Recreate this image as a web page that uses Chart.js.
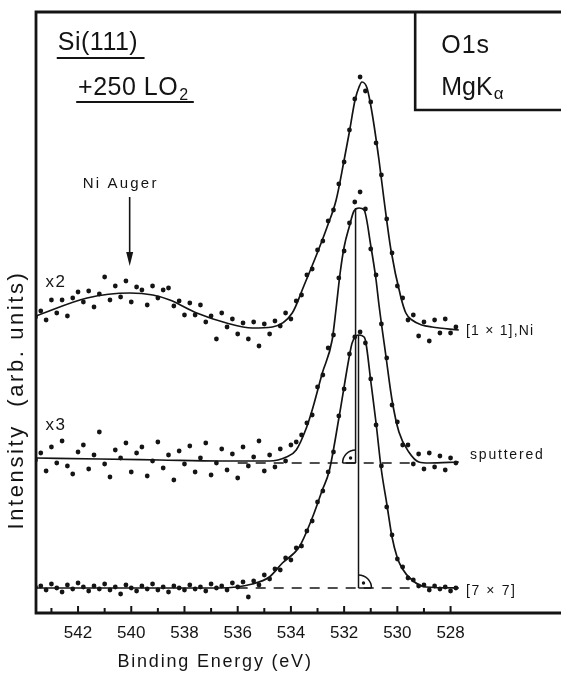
<!DOCTYPE html>
<html>
<head>
<meta charset="utf-8">
<title>O1s XPS spectra</title>
<script src="https://cdn.jsdelivr.net/npm/chart.js@4.4.1/dist/chart.umd.min.js"></script>
<style>
html,body{margin:0;padding:0;background:#fff;overflow:hidden}
canvas{display:block}
</style>
</head>
<body>
<canvas id="chart" width="561" height="677"></canvas>
<script>
// ---------- data (binding energy in eV, intensity in arbitrary units) ----------
const energies = [543.6,543.4,543.2,543.0,542.8,542.6,542.4,542.2,542.0,541.8,
  541.6,541.4,541.2,541.0,540.8,540.6,540.4,540.2,540.0,539.8,
  539.6,539.4,539.2,539.0,538.8,538.6,538.4,538.2,538.0,537.8,
  537.6,537.4,537.2,537.0,536.8,536.6,536.4,536.2,536.0,535.8,
  535.6,535.4,535.2,535.0,534.8,534.6,534.4,534.2,534.0,533.8,
  533.6,533.4,533.2,533.0,532.8,532.6,532.4,532.2,532.0,531.8,
  531.6,531.4,531.2,531.0,530.8,530.6,530.4,530.2,530.0,529.8,
  529.6,529.4,529.2,529.0,528.8,528.6,528.4,528.2,528.0,527.8];

// [1x1],Ni  (x2 scaled region on the left)
const niDots = [296,302,293,313,300,313,297,315,321,311,
  322,306,319,336,313,327,316,332,311,326,
  323,308,327,315,323,325,307,312,298,310,
  298,308,291,297,274,300,286,294,279,290,
  274,291,267,289,279,292,287,300,294,312,
  318,338,344,363,372,392,403,429,451,483,
  514,536,522,511,470,438,394,360,327,315,
  293,298,277,291,272,293,280,294,280,286];
const niFitE = [543.58,541.66,540.05,539.19,538.55,537.54,536.42,535.45,534.70,533.95,533.50,533.01,532.64,532.30,532.00,531.81,531.59,531.44,531.33,531.14,530.95,530.69,530.50,530.24,529.87,529.68,529.45,529.08,528.70,527.69];
const niFitY = [297,315,320,318,313,300,290,285,286,300,328,360,386,413,453,480,513,526,531,525,500,453,413,363,316,300,293,288,286,283];

// sputtered (x3 scaled region on the left)
const sputDots = [153,160,142,166,150,172,147,139,161,168,
  144,158,181,149,136,163,155,170,141,160,
  166,137,152,171,145,158,133,162,149,167,
  141,155,170,138,150,164,143,159,135,166,
  147,156,172,142,158,146,164,152,168,171,
  178,190,198,226,238,265,278,335,362,390,
  411,421,404,364,338,289,255,208,191,168,
  168,149,159,144,160,146,157,143,155,150];
const sputFitE = [543.58,541.18,538.93,536.68,534.81,534.17,533.80,533.42,533.20,532.82,532.45,532.30,532.15,532.00,531.81,531.63,531.44,531.25,530.99,530.80,530.69,530.43,530.20,529.94,529.57,529.19,528.82,527.69];
const sputFitY = [155,154,153,152,152,156,163,185,203,240,273,305,340,366,386,402,405,403,366,333,308,257,213,181,161,151,150,151];

// [7x7]
const s7Dots = [26,27,23,29,25,21,28,24,30,26,
  22,27,24,29,23,26,19,28,25,22,
  27,24,29,23,26,21,27,25,23,28,
  24,26,22,29,25,27,23,30,26,31,
  16,32,28,38,34,44,43,55,53,65,
  67,82,92,111,122,141,161,197,224,259,
  276,281,270,234,188,147,106,78,54,46,
  35,33,27,28,23,27,24,26,22,25];
const s7FitE = [543.58,536.68,535.45,534.81,534.32,533.69,533.20,532.82,532.56,532.19,531.81,531.70,531.46,531.25,531.18,530.99,530.80,530.61,530.39,530.20,530.01,529.83,529.45,528.93,527.69];
const s7FitY = [25,25,29,36,50,66,95,123,142,196,256,270,278,276,270,230,190,145,108,76,56,45,33,26,25];

// peak markers: [energy, peak top, baseline]
const sputPeak = [531.57, 405, 150];
const s7Peak   = [531.46, 278, 25];
const baselineRange = [536.0, 529.3];   // extent of the dashed background lines (eV)

// axis ticks
const tickValues = [542,540,538,536,534,532,530,528];
const tickLabels = ['542','540','538','536','534','532','530','528'];
const minorTickValues = [543,541,539,537,535,533,531,529];

// ---------- drawing ----------
const INK = '#141414';
const FAM = '"Liberation Sans", Arial, sans-serif';
const pts = (xs, ys) => xs.map((x, i) => ({x, y: ys[i]}));

function dots(d) {
  return {data: pts(energies, d), showLine: false, pointRadius: 2.4, pointBorderWidth: 0,
          pointBackgroundColor: INK, pointHoverRadius: 0};
}
function fit(e, v) {
  return {data: pts(e, v), showLine: true, borderColor: INK, borderWidth: 1.7,
          pointRadius: 0, cubicInterpolationMode: 'monotone'};
}
function seg(a, b, dash) {
  return {data: [a, b], showLine: true, borderColor: INK, borderWidth: 1.5,
          borderDash: dash || [], pointRadius: 0};
}

const decor = {
  id: 'decor',
  afterDraw(chart) {
    const {ctx, chartArea: a, scales: {x, y}} = chart;
    const X = v => x.getPixelForValue(v), Y = v => y.getPixelForValue(v);
    ctx.save();
    ctx.strokeStyle = INK; ctx.fillStyle = INK;

    // frame
    ctx.lineWidth = 2.8;
    ctx.beginPath();
    ctx.moveTo(a.right + 3, a.top); ctx.lineTo(a.left, a.top);
    ctx.lineTo(a.left, a.bottom); ctx.lineTo(a.right + 3, a.bottom);
    ctx.stroke();

    // inset box (O1s / MgKa)
    ctx.lineWidth = 2.6;
    ctx.beginPath();
    ctx.moveTo(X(529.33), a.top); ctx.lineTo(X(529.33), Y(503)); ctx.lineTo(a.right + 3, Y(503));
    ctx.stroke();

    // inward ticks
    ctx.lineWidth = 2;
    tickValues.forEach(v => { ctx.beginPath(); ctx.moveTo(X(v), a.bottom); ctx.lineTo(X(v), a.bottom - 7); ctx.stroke(); });
    minorTickValues.forEach(v => { ctx.beginPath(); ctx.moveTo(X(v), a.bottom); ctx.lineTo(X(v), a.bottom - 5); ctx.stroke(); });

    // right-angle markers
    function rightAngle(e, v, side) {
      const cx = X(e), cy = Y(v), r = 13;
      ctx.lineWidth = 1.5;
      ctx.beginPath();
      if (side < 0) ctx.arc(cx, cy, r, Math.PI, 1.5 * Math.PI);
      else ctx.arc(cx, cy, r, 1.5 * Math.PI, 2 * Math.PI);
      ctx.stroke();
      ctx.beginPath(); ctx.moveTo(cx + side * r, cy); ctx.lineTo(cx, cy); ctx.stroke();
      ctx.beginPath(); ctx.arc(cx + side * 5, cy - 5, 1.7, 0, 2 * Math.PI); ctx.fill();
    }
    rightAngle(sputPeak[0], sputPeak[2], -1);
    rightAngle(s7Peak[0], s7Peak[2], 1);

    // Ni Auger arrow
    const ax = X(540.06);
    ctx.lineWidth = 1.6;
    ctx.beginPath(); ctx.moveTo(ax, Y(416)); ctx.lineTo(ax, Y(356)); ctx.stroke();
    ctx.beginPath(); ctx.moveTo(ax - 3.5, Y(361)); ctx.lineTo(ax + 3.5, Y(361)); ctx.lineTo(ax, Y(347)); ctx.closePath(); ctx.fill();

    // texts
    function txt(s, px, py, size, ls, align) {
      ctx.font = size + 'px ' + FAM;
      ctx.letterSpacing = (ls || 0) + 'px';
      ctx.textAlign = align || 'left';
      ctx.textBaseline = 'alphabetic';
      ctx.fillText(s, px, py);
      return ctx.measureText(s).width;
    }
    // Si(111) + 250 L O2
    txt('Si(111)', X(542.76), Y(563), 25, 0.5);
    ctx.lineWidth = 2.2;
    ctx.beginPath(); ctx.moveTo(X(542.80), Y(555)); ctx.lineTo(X(539.50), Y(555)); ctx.stroke();
    let w = txt('+250 LO', X(542.00), Y(518), 25, 0.5);
    txt('2', X(542.00) + w + 1, Y(513), 16, 0);
    ctx.beginPath(); ctx.moveTo(X(542.07), Y(511)); ctx.lineTo(X(537.65), Y(511)); ctx.stroke();
    // O1s / MgKa
    txt('O1s', X(528.35), Y(560), 25, 1);
    w = txt('MgK', X(528.35), Y(518), 25, 0);
    txt('\u03b1', X(528.35) + w + 1, Y(514), 17, 0);

    // spectrum labels
    txt('Ni Auger', X(540.40), Y(425), 15, 2.2, 'center');
    txt('x2', X(543.22), Y(326), 17, 1.5);
    txt('x3', X(543.22), Y(183), 17, 1.5);
    txt('[1 \u00d7 1],Ni', X(527.42), Y(278), 14, 1.2);
    txt('sputtered', X(527.27), Y(154), 14, 1.8);
    txt('[7 \u00d7 7]', X(527.42), Y(18), 14, 1.6);

    // axis titles
    txt('Binding Energy (eV)', X(536.85), 667, 18, 1.8, 'center');
    ctx.save();
    ctx.translate(23, Y(213));
    ctx.rotate(-Math.PI / 2);
    txt('Intensity  (arb. units)', 0, 0, 22, 2.6, 'center');
    ctx.restore();

    ctx.restore();
  }
};

new Chart(document.getElementById('chart'), {
  type: 'scatter',
  data: {
    datasets: [
      seg({x: baselineRange[0], y: sputPeak[2]}, {x: baselineRange[1], y: sputPeak[2]}, [10, 8]),
      seg({x: baselineRange[0], y: s7Peak[2]}, {x: baselineRange[1], y: s7Peak[2]}, [10, 8]),
      seg({x: sputPeak[0], y: sputPeak[1]}, {x: sputPeak[0], y: sputPeak[2]}),
      seg({x: s7Peak[0], y: s7Peak[1]}, {x: s7Peak[0], y: s7Peak[2]}),
      fit(niFitE, niFitY), dots(niDots),
      fit(sputFitE, sputFitY), dots(sputDots),
      fit(s7FitE, s7FitY), dots(s7Dots)
    ]
  },
  options: {
    responsive: false,
    animation: false,
    devicePixelRatio: 1,
    events: [],
    layout: {padding: {left: 36, top: 12, right: 0, bottom: 0}},
    plugins: {legend: {display: false}, tooltip: {enabled: false}},
    scales: {
      x: {
        type: 'linear', reverse: true, min: 523.94, max: 543.58,
        grid: {display: false, drawTicks: false},
        border: {display: false},
        afterBuildTicks: s => { s.ticks = tickValues.map(v => ({value: v})); },
        afterFit: s => { s.height = 64; },
        ticks: {
          autoSkip: false, maxRotation: 0, minRotation: 0, padding: 10, color: INK,
          font: {family: FAM, size: 17},
          callback: (v, i) => tickLabels[i]
        }
      },
      y: {display: false, min: 0, max: 601}
    }
  },
  plugins: [decor]
});
</script>
</body>
</html>
